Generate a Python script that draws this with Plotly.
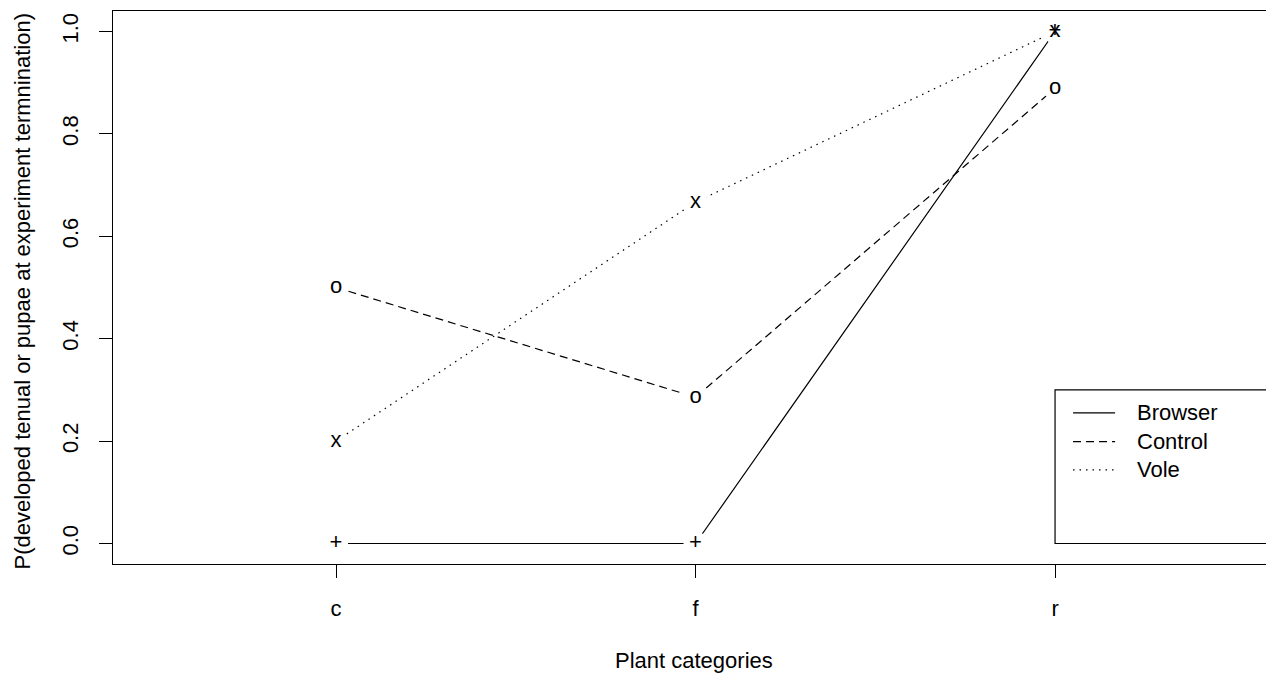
import plotly.graph_objects as go

categories = ["c", "f", "r"]
series_names = ["Browser", "Control", "Vole"]
browser = [0.0, 0.0, 1.0]
control = [0.5, 0.2857, 0.8889]
vole = [0.2, 0.6667, 1.0]
symbols = ["+", "o", "x"]
dashes = ["solid", "8px,5px", "1.5px,5px"]
y_ticks = [0.0, 0.2, 0.4, 0.6, 0.8, 1.0]
y_ticklabels = ["0.0", "0.2", "0.4", "0.6", "0.8", "1.0"]

FONT = "Liberation Sans, Arial, Helvetica, sans-serif"
FS = 22
xpos = [1, 2, 3]
data = [browser, control, vole]
XR = [0.3797, 3.609]

fig = go.Figure()
# lines
for name, vals, d in zip(series_names, data, dashes):
    fig.add_trace(go.Scatter(x=xpos, y=vals, mode="lines", name=name,
                             line=dict(color="black", width=1.2, dash=d),
                             showlegend=False, hoverinfo="skip"))
# white gaps around points (type="b" look)
for vals in data:
    fig.add_trace(go.Scatter(x=xpos, y=vals, mode="markers",
                             marker=dict(color="white", size=24, line=dict(width=0)),
                             showlegend=False, hoverinfo="skip"))
# point characters
for name, vals, s in zip(series_names, data, symbols):
    fig.add_trace(go.Scatter(x=xpos, y=vals, mode="text", text=[s] * len(vals),
                             textposition="middle center",
                             textfont=dict(family=FONT, size=FS, color="black"),
                             showlegend=False, hoverinfo="skip"))

# legend (R style box)
leg_x0, leg_y0, leg_y1 = 3.0, 0.0, 0.30
row_y = [0.255, 0.199, 0.144]
shapes = [dict(type="rect", xref="x", yref="y", x0=leg_x0, x1=XR[1], y0=leg_y0, y1=leg_y1,
               line=dict(color="black", width=1.2), fillcolor="rgba(0,0,0,0)", layer="above")]
annotations = []
for name, d, yy in zip(series_names, dashes, row_y):
    fig.add_trace(go.Scatter(x=[3.05, 3.167], y=[yy, yy], mode="lines",
                             line=dict(color="black", width=1.2, dash=d),
                             showlegend=False, hoverinfo="skip"))
    annotations.append(dict(x=3.222, y=yy, xref="x", yref="y", text=name, showarrow=False,
                            xanchor="left", yanchor="middle",
                            font=dict(family=FONT, size=FS, color="black")))

annotations.append(dict(x=0.5, y=0, xref="paper", yref="paper", text="Plant categories",
                        showarrow=False, xanchor="center", yanchor="middle", yshift=-96,
                        font=dict(family=FONT, size=FS, color="black")))
annotations.append(dict(x=0, y=0.5, xref="paper", yref="paper",
                        text="P(developed tenual or pupae at experiment termnination)",
                        showarrow=False, xanchor="center", yanchor="middle", xshift=-91,
                        yshift=-4, textangle=-90,
                        font=dict(family=FONT, size=FS, color="black")))

fig.update_layout(
    width=1266, height=665,
    margin=dict(l=105, r=0, t=3, b=109),
    paper_bgcolor="white", plot_bgcolor="white",
    shapes=shapes, annotations=annotations,
    font=dict(family=FONT, size=FS, color="black"),
    xaxis=dict(range=XR, tickvals=xpos, ticktext=categories,
               showgrid=False, zeroline=False, showline=True, mirror=True,
               linecolor="black", linewidth=1.2, ticks="outside", ticklen=13,
               tickwidth=1.2, tickcolor="black", ticklabelstandoff=11),
    yaxis=dict(range=[-0.04, 1.04], tickvals=y_ticks, ticktext=y_ticklabels,
               tickangle=-90, showgrid=False, zeroline=False, showline=True, mirror=True,
               linecolor="black", linewidth=1.2, ticks="outside", ticklen=13,
               tickwidth=1.2, tickcolor="black", ticklabelstandoff=12),
)

fig.write_html("out.html")
